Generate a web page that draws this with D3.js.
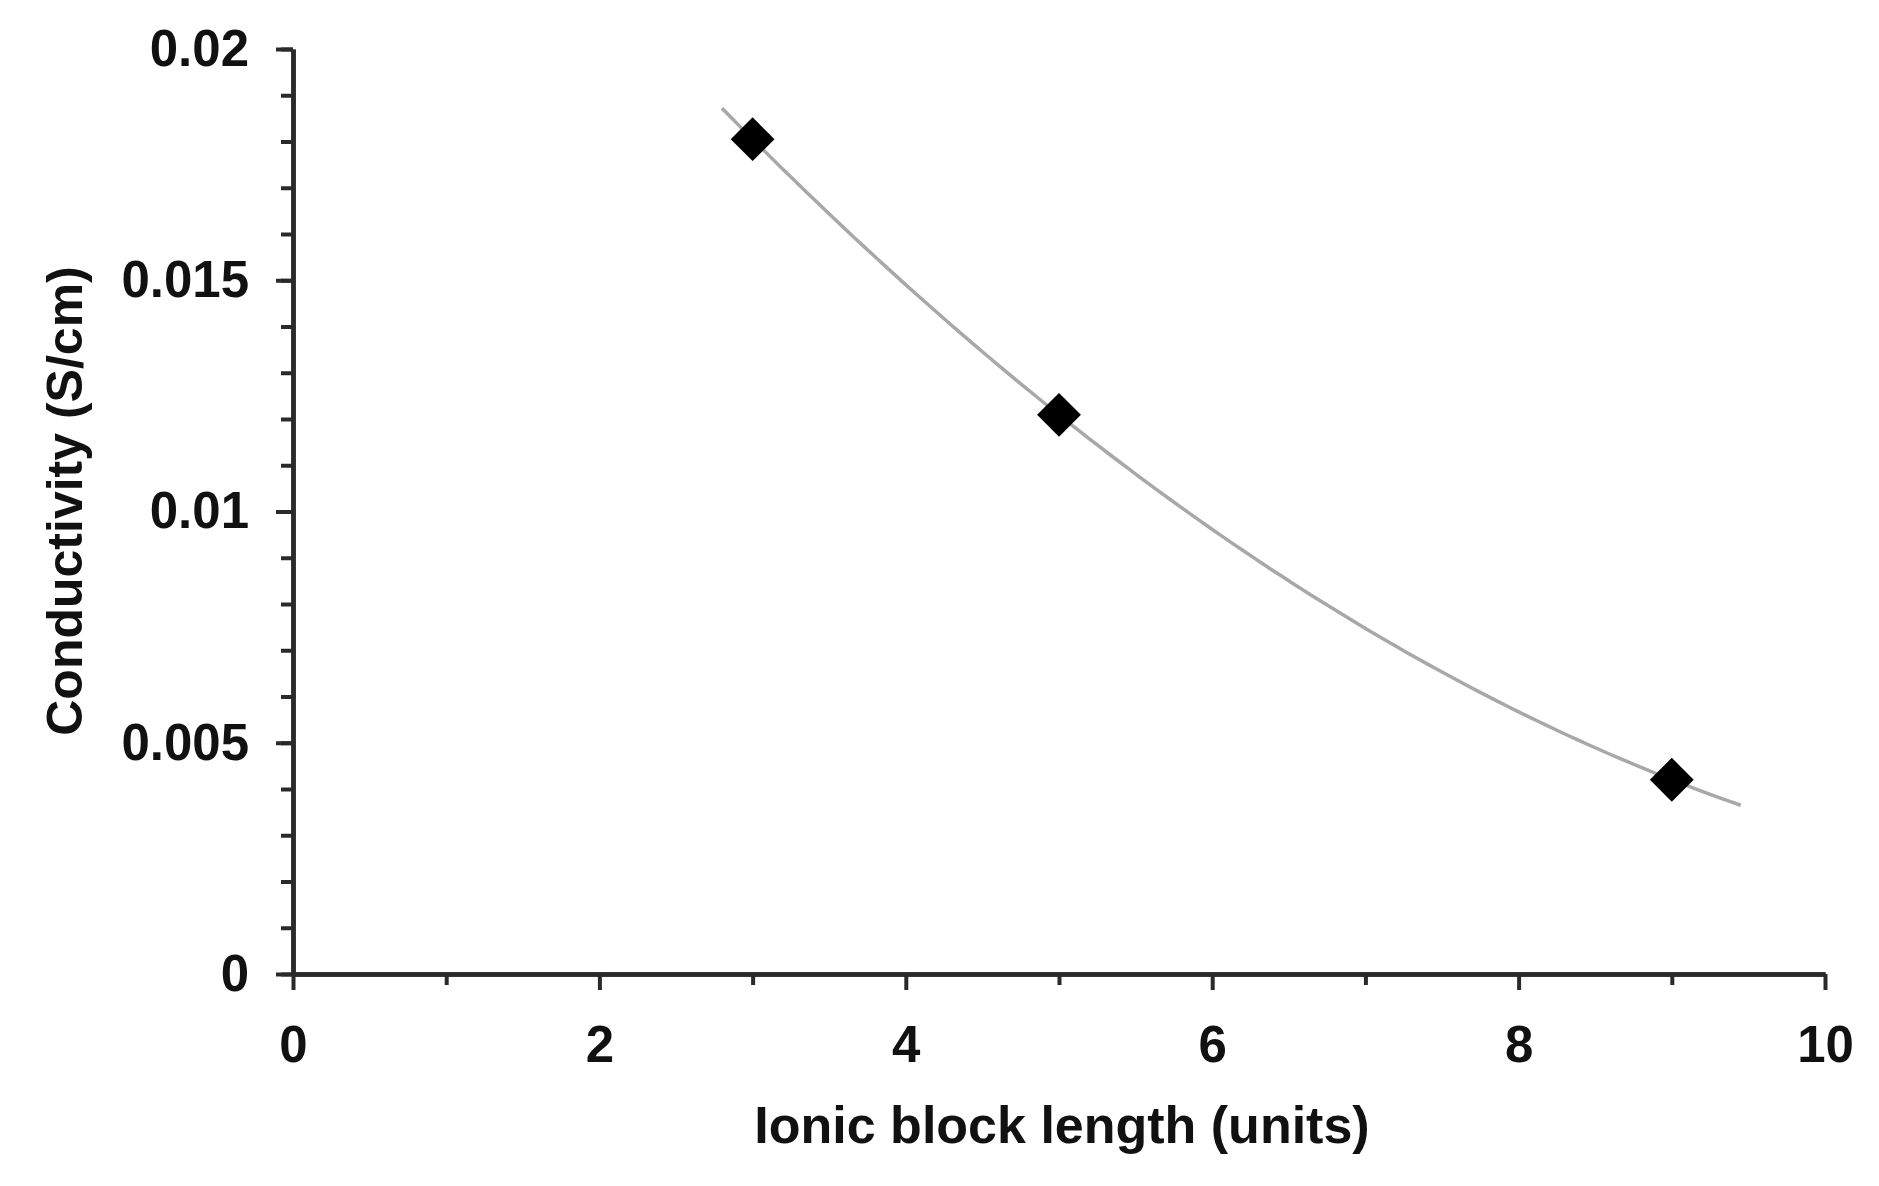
<!DOCTYPE html>
<html><head><meta charset="utf-8">
<script src="https://cdn.jsdelivr.net/npm/d3@7"></script>
<style>body{margin:0;background:#fff} svg{display:block;background:#fff}</style>
</head><body><svg id="c" width="1879" height="1186"></svg>
<script>
// ---- data ----
const blockLength = [3, 5, 9];
const conductivity = [0.01805, 0.01209, 0.0042];
const xTickValues = [0, 2, 4, 6, 8, 10];
const xTickLabels = ["0", "2", "4", "6", "8", "10"];
const xMinorTicks = [1, 3, 5, 7, 9];
const yTickValues = [0, 0.005, 0.01, 0.015, 0.02];
const yTickLabels = ["0", "0.005", "0.01", "0.015", "0.02"];
const trendRange = [2.8, 9.45];
const xTitle = "Ionic block length (units)";
const yTitle = "Conductivity (S/cm)";

const svg = d3.select("#c");
const FONT = "'Liberation Sans', Arial, sans-serif";
const x = d3.scaleLinear().domain([0, 10]).range([293, 1825]);
const y = d3.scaleLinear().domain([0, 0.02]).range([974, 49]);
const yMinorTicks = d3.range(0, 21).map(i => i * 0.001);

// ---- axes ----
function styleAxis(g) {
  g.selectAll("path.domain").attr("stroke", "#2a2a2a").attr("stroke-width", 4.5);
  g.selectAll(".tick line").attr("stroke", "#2a2a2a").attr("stroke-width", 4);
  g.selectAll("text").attr("fill", "#111").style("font-family", FONT)
    .style("font-weight", "bold").style("font-size", "51px");
}
// y minor
svg.append("g").attr("transform", `translate(${x(0)},0)`)
  .call(d3.axisLeft(y).tickValues(yMinorTicks).tickFormat("").tickSize(12).tickSizeOuter(0))
  .call(styleAxis);
// y major
svg.append("g").attr("transform", `translate(${x(0)},0)`)
  .call(d3.axisLeft(y).tickValues(yTickValues).tickFormat((d, i) => yTickLabels[i])
    .tickSize(17).tickSizeOuter(0).tickPadding(27))
  .call(styleAxis);
// x minor
svg.append("g").attr("transform", `translate(0,${y(0)})`)
  .call(d3.axisBottom(x).tickValues(xMinorTicks).tickFormat("").tickSize(11).tickSizeOuter(0))
  .call(styleAxis);
// x major
svg.append("g").attr("transform", `translate(0,${y(0)})`)
  .call(d3.axisBottom(x).tickValues(xTickValues).tickFormat((d, i) => xTickLabels[i])
    .tickSize(16).tickSizeOuter(0).tickPadding(36))
  .call(styleAxis);

// ---- trendline: least-squares quadratic fit of the data ----
function polyFit2(xs, ys) {
  const n = xs.length;
  const S = k => d3.sum(xs, v => Math.pow(v, k));
  const T = k => d3.sum(xs.map((v, i) => ys[i] * Math.pow(v, k)));
  const A = [[n, S(1), S(2)], [S(1), S(2), S(3)], [S(2), S(3), S(4)]];
  const b = [T(0), T(1), T(2)];
  for (let c = 0; c < 3; c++) {
    for (let r = c + 1; r < 3; r++) {
      const f = A[r][c] / A[c][c];
      for (let k = c; k < 3; k++) A[r][k] -= f * A[c][k];
      b[r] -= f * b[c];
    }
  }
  const coef = [0, 0, 0];
  for (let r = 2; r >= 0; r--) {
    let s = b[r];
    for (let k = r + 1; k < 3; k++) s -= A[r][k] * coef[k];
    coef[r] = s / A[r][r];
  }
  return v => coef[0] + coef[1] * v + coef[2] * v * v;
}
const fit = polyFit2(blockLength, conductivity);
const trendXs = d3.range(0, 101).map(i => trendRange[0] + (trendRange[1] - trendRange[0]) * i / 100);
svg.append("path")
  .datum(trendXs)
  .attr("fill", "none")
  .attr("stroke", "#a8a8a8")
  .attr("stroke-width", 3.5)
  .attr("d", d3.line().x(d => x(d)).y(d => y(fit(d))).curve(d3.curveLinear));

// ---- points (diamonds) ----
const diamond = d3.symbol().type(d3.symbolSquare).size(960);
svg.append("g").selectAll("path")
  .data(blockLength.map((v, i) => [v, conductivity[i]]))
  .join("path")
  .attr("d", diamond)
  .attr("fill", "#000")
  .attr("transform", d => `translate(${x(d[0])},${y(d[1])}) rotate(45)`);

// ---- titles ----
svg.append("text")
  .attr("x", 1062).attr("y", 1143)
  .attr("text-anchor", "middle")
  .attr("fill", "#111")
  .style("font-family", FONT).style("font-weight", "bold").style("font-size", "52px")
  .text(xTitle);
svg.append("text")
  .attr("transform", "translate(82,501) rotate(-90)")
  .attr("text-anchor", "middle")
  .attr("fill", "#111")
  .style("font-family", FONT).style("font-weight", "bold").style("font-size", "50px")
  .text(yTitle);
</script>
</body></html>
